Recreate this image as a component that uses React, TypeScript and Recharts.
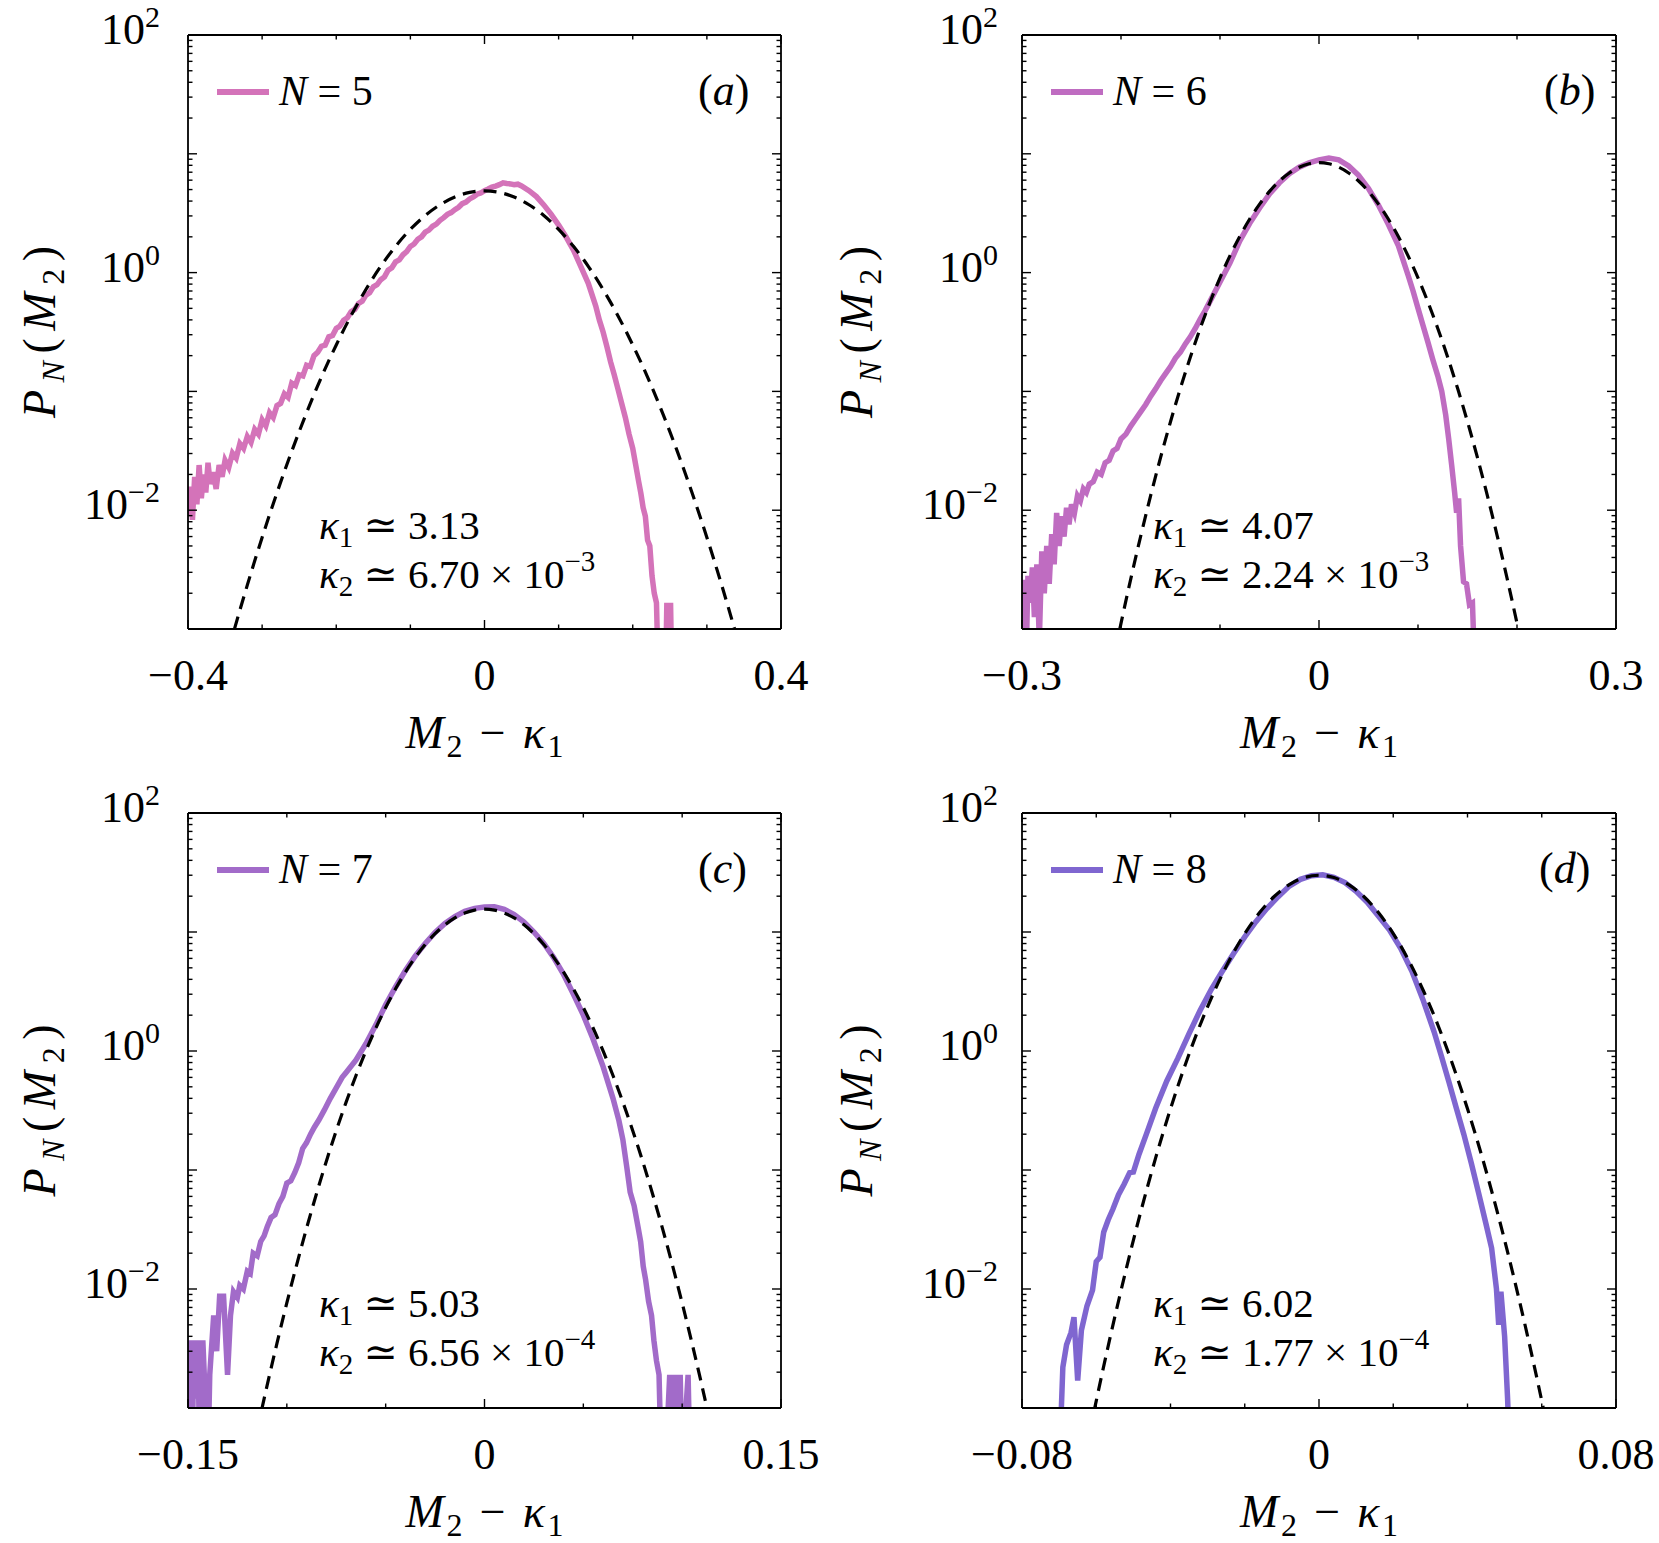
import React from "react";
import { LineChart, Line, XAxis, YAxis } from "recharts";

const FONT = "'Liberation Serif', 'DejaVu Serif', serif";

// ---------- labels / series info ----------
const panelTags = ["a", "b", "c", "d"];
const seriesN = ["5", "6", "7", "8"];
const seriesColors = ["#d473b9", "#bf6cc1", "#a26bc9", "#7f66d0"];
const kappa1 = ["3.13", "4.07", "5.03", "6.02"];
const kappa2Mantissa = ["6.70", "2.24", "6.56", "1.77"];
const kappa2Exponent = ["−3", "−3", "−4", "−4"];

// ---------- axes ----------
const yTicks = [
  0.001, 0.002, 0.003, 0.004, 0.005, 0.006, 0.007, 0.008, 0.009,
  0.01, 0.02, 0.03, 0.04, 0.05, 0.06, 0.07, 0.08, 0.09,
  0.1, 0.2, 0.3, 0.4, 0.5, 0.6, 0.7, 0.8, 0.9,
  1, 2, 3, 4, 5, 6, 7, 8, 9,
  10, 20, 30, 40, 50, 60, 70, 80, 90, 100,
];
const yLabelValues = [0.01, 1, 100];
const yLabelExponents = ["−2", "0", "2"];

const xTicksA = [-0.4, -0.3, -0.2, -0.1, 0, 0.1, 0.2, 0.3, 0.4];
const xTicksB = [-0.3, -0.2, -0.1, 0, 0.1, 0.2, 0.3];
const xTicksC = [-0.15, -0.1, -0.05, 0, 0.05, 0.1, 0.15];
const xTicksD = [-0.08, -0.06, -0.04, -0.02, 0, 0.02, 0.04, 0.06, 0.08];
const xLabelValuesA = [-0.4, 0, 0.4];
const xLabelValuesB = [-0.3, 0, 0.3];
const xLabelValuesC = [-0.15, 0, 0.15];
const xLabelValuesD = [-0.08, 0, 0.08];
const xLabelTextsA = ["−0.4", "0", "0.4"];
const xLabelTextsB = ["−0.3", "0", "0.3"];
const xLabelTextsC = ["−0.15", "0", "0.15"];
const xLabelTextsD = ["−0.08", "0", "0.08"];

// ---------- panel (a): N = 5 ----------
const xA = [-0.400,-0.397,-0.394,-0.391,-0.388,-0.385,-0.382,-0.379,-0.376,-0.373,-0.370,-0.366,-0.362,-0.358,-0.354,-0.350,-0.345,-0.340,-0.335,-0.330,-0.325,-0.320,-0.315,-0.310,-0.305,-0.300,-0.295,-0.290,-0.285,-0.280,-0.275,-0.270,-0.265,-0.260,-0.255,-0.250,-0.245,-0.240,-0.235,-0.230,-0.225,-0.220,-0.215,-0.210,-0.205,-0.200,-0.195,-0.190,-0.185,-0.180,-0.175,-0.170,-0.165,-0.160,-0.155,-0.150,-0.145,-0.140,-0.135,-0.130,-0.125,-0.120,-0.115,-0.110,-0.105,-0.100,-0.095,-0.090,-0.085,-0.080,-0.075,-0.070,-0.065,-0.060,-0.055,-0.050,-0.045,-0.040,-0.035,-0.030,-0.025,-0.020,-0.015,-0.010,-0.005,0.000,0.005,0.010,0.015,0.020,0.025,0.030,0.035,0.040,0.045,0.050,0.060,0.070,0.080,0.090,0.100,0.110,0.120,0.130,0.140,0.150,0.155,0.160,0.165,0.170,0.175,0.180,0.185,0.190,0.195,0.200,0.204,0.208,0.211,0.214,0.217,0.220,0.223,0.226,0.229,0.232,0.235,0.240,0.244,0.246,0.248,0.251,0.253];
const pA = [0.0089,0.0158,0.0083,0.0191,0.0112,0.0240,0.0126,0.0200,0.0141,0.0251,0.0166,0.0209,0.0151,0.0240,0.0191,0.0263,0.0229,0.0302,0.0275,0.0363,0.0331,0.0417,0.0372,0.0479,0.0437,0.0575,0.0513,0.0661,0.0603,0.0759,0.0794,0.0955,0.0891,0.1175,0.1122,0.138,0.135,0.166,0.162,0.200,0.214,0.240,0.245,0.288,0.295,0.339,0.355,0.398,0.417,0.468,0.490,0.550,0.575,0.646,0.676,0.759,0.79,0.871,0.92,1.047,1.10,1.230,1.28,1.413,1.50,1.660,1.74,1.905,2.00,2.188,2.28,2.455,2.56,2.754,2.90,3.090,3.20,3.388,3.55,3.802,3.92,4.169,4.33,4.571,4.68,4.898,5.05,5.248,5.35,5.495,5.70,5.623,5.58,5.495,5.55,5.370,4.898,4.365,3.715,3.090,2.512,1.995,1.549,1.122,0.813,0.525,0.398,0.316,0.240,0.178,0.138,0.105,0.0794,0.0603,0.0437,0.0331,0.0240,0.0174,0.0138,0.0105,0.0089,0.0056,0.0050,0.0028,0.0020,0.00166,0.0003,0.0003,0.0003,0.00166,0.0003,0.00166,0.0003];
const gxA = [-0.36,-0.34,-0.32,-0.30,-0.28,-0.26,-0.24,-0.22,-0.20,-0.18,-0.16,-0.14,-0.12,-0.10,-0.08,-0.06,-0.04,-0.02,0,0.02,0.04,0.06,0.08,0.10,0.12,0.14,0.16,0.18,0.20,0.22,0.24,0.26,0.28,0.30,0.32,0.34,0.36];
const gpA = [0.000307,0.000874,0.00234,0.00590,0.0140,0.0314,0.0662,0.132,0.246,0.434,0.721,1.129,1.664,2.311,3.023,3.726,4.326,4.731,4.874,4.731,4.326,3.726,3.023,2.311,1.664,1.129,0.721,0.434,0.246,0.132,0.0662,0.0314,0.0140,0.00590,0.00234,0.000874,0.000307];

// ---------- panel (b): N = 6 ----------
const xB = [-0.300,-0.2985,-0.2965,-0.294,-0.292,-0.2895,-0.2875,-0.285,-0.2825,-0.280,-0.2775,-0.275,-0.2725,-0.270,-0.2675,-0.265,-0.2625,-0.260,-0.2575,-0.255,-0.2525,-0.250,-0.247,-0.244,-0.241,-0.238,-0.235,-0.232,-0.228,-0.224,-0.220,-0.216,-0.212,-0.208,-0.204,-0.200,-0.195,-0.190,-0.185,-0.180,-0.175,-0.170,-0.165,-0.160,-0.155,-0.150,-0.145,-0.140,-0.135,-0.130,-0.125,-0.120,-0.115,-0.110,-0.100,-0.090,-0.080,-0.070,-0.060,-0.050,-0.040,-0.030,-0.020,-0.010,0.000,0.010,0.020,0.030,0.040,0.050,0.060,0.070,0.080,0.090,0.095,0.100,0.105,0.110,0.115,0.120,0.124,0.128,0.131,0.134,0.137,0.139,0.141,0.143,0.146,0.149,0.152,0.155,0.158];
const pB = [0.0003,0.0026,0.0003,0.0028,0.00166,0.0033,0.00126,0.0035,0.0008,0.0045,0.0020,0.0050,0.0024,0.0063,0.0035,0.0095,0.0050,0.0089,0.0060,0.0105,0.0076,0.0112,0.0095,0.0132,0.0120,0.0151,0.0141,0.0166,0.0174,0.0209,0.0200,0.0251,0.0263,0.0316,0.0331,0.0398,0.0437,0.0513,0.0589,0.0676,0.0776,0.0912,0.105,0.123,0.141,0.162,0.191,0.214,0.251,0.288,0.339,0.407,0.479,0.575,0.832,1.202,1.85,2.60,3.50,4.60,5.70,6.80,7.70,8.40,8.90,9.20,8.90,7.90,6.60,5.10,3.70,2.55,1.70,0.95,0.70,0.50,0.36,0.26,0.185,0.135,0.100,0.0631,0.0398,0.0240,0.0141,0.0095,0.0126,0.0050,0.0025,0.0024,0.0016,0.00166,0.0003];
const gxB = [-0.21,-0.20,-0.19,-0.18,-0.17,-0.16,-0.15,-0.14,-0.13,-0.12,-0.11,-0.10,-0.09,-0.08,-0.07,-0.06,-0.05,-0.04,-0.03,-0.02,-0.01,0,0.01,0.02,0.03,0.04,0.05,0.06,0.07,0.08,0.09,0.10,0.11,0.12,0.13,0.14,0.15,0.16,0.17,0.18,0.19,0.20,0.21];
const gpB = [0.000447,0.001117,0.002667,0.006094,0.01332,0.02780,0.05554,0.1061,0.1939,0.3387,0.5659,0.9045,1.383,2.021,2.824,3.774,4.825,5.899,6.896,7.710,8.244,8.43,8.244,7.710,6.896,5.899,4.825,3.774,2.824,2.021,1.383,0.9045,0.5659,0.3387,0.1939,0.1061,0.05554,0.02780,0.01332,0.006094,0.002667,0.001117,0.000447];

// ---------- panel (c): N = 7 ----------
const xC = [-0.1500,-0.1492,-0.1480,-0.1470,-0.1460,-0.1450,-0.1440,-0.1425,-0.1415,-0.1400,-0.1390,-0.1370,-0.1355,-0.1340,-0.1320,-0.1300,-0.1285,-0.1270,-0.1250,-0.1238,-0.1220,-0.1200,-0.1185,-0.1170,-0.1150,-0.1132,-0.1115,-0.1100,-0.1080,-0.1060,-0.1040,-0.1020,-0.1000,-0.0980,-0.0960,-0.0940,-0.0920,-0.0900,-0.0880,-0.0860,-0.0838,-0.0810,-0.0780,-0.0750,-0.0720,-0.0700,-0.0650,-0.0600,-0.0550,-0.0500,-0.0450,-0.0400,-0.0350,-0.0300,-0.0250,-0.0200,-0.0150,-0.0100,-0.0050,0.0000,0.0050,0.0100,0.0150,0.0200,0.0250,0.0300,0.0350,0.0400,0.0450,0.0500,0.0550,0.0600,0.0650,0.0680,0.0700,0.0720,0.0737,0.0757,0.0777,0.0790,0.0803,0.0815,0.0830,0.0845,0.0857,0.0870,0.0883,0.0895,0.0915,0.0937,0.0950,0.0965,0.0975,0.0990,0.1000,0.1030,0.1040];
const pC = [0.0003,0.0037,0.0003,0.0037,0.0012,0.0037,0.0003,0.0037,0.0015,0.0003,0.0019,0.0060,0.0030,0.0087,0.0087,0.0019,0.0060,0.0095,0.0085,0.0107,0.0100,0.0141,0.0135,0.0200,0.0190,0.0251,0.0280,0.0330,0.0398,0.0420,0.0520,0.0600,0.0776,0.0810,0.0950,0.1150,0.1514,0.170,0.200,0.230,0.263,0.320,0.400,0.490,0.600,0.660,0.840,1.15,1.65,2.45,3.45,4.75,6.30,8.00,9.90,11.8,13.5,14.9,15.8,16.2,16.3,15.5,14.0,12.1,10.0,8.00,6.10,4.40,3.00,2.00,1.25,0.74,0.40,0.26,0.18,0.105,0.065,0.050,0.033,0.025,0.0155,0.0120,0.0079,0.0060,0.0037,0.0025,0.0019,0.0003,0.0003,0.0019,0.0003,0.0019,0.0003,0.0019,0.0003,0.0019,0.0003];
const gxC = [-0.115,-0.11,-0.105,-0.10,-0.095,-0.09,-0.085,-0.08,-0.075,-0.07,-0.065,-0.06,-0.055,-0.05,-0.045,-0.04,-0.035,-0.03,-0.025,-0.02,-0.015,-0.01,-0.005,0,0.005,0.01,0.015,0.02,0.025,0.03,0.035,0.04,0.045,0.05,0.055,0.06,0.065,0.07,0.075,0.08,0.085,0.09,0.095,0.10,0.105,0.11,0.115];
const gpC = [0.000653,0.001539,0.003493,0.007631,0.01605,0.03246,0.06324,0.1186,0.2141,0.3720,0.6223,1.002,1.553,2.318,3.329,4.603,6.125,7.846,9.675,11.49,13.12,14.44,15.29,15.58,15.29,14.44,13.12,11.49,9.675,7.846,6.125,4.603,3.329,2.318,1.553,1.002,0.6223,0.3720,0.2141,0.1186,0.06324,0.03246,0.01605,0.007631,0.003493,0.001539,0.000653];

// ---------- panel (d): N = 8 ----------
const xD = [-0.0700,-0.0690,-0.0680,-0.0668,-0.0660,-0.0650,-0.0640,-0.0625,-0.0610,-0.0600,-0.0590,-0.0580,-0.0568,-0.0555,-0.0540,-0.0525,-0.0510,-0.0500,-0.0485,-0.0465,-0.0440,-0.0410,-0.0380,-0.0350,-0.0320,-0.0290,-0.0260,-0.0230,-0.0200,-0.0170,-0.0140,-0.0110,-0.0080,-0.0050,-0.0020,0.0010,0.0040,0.0070,0.0100,0.0130,0.0160,0.0190,0.0220,0.0250,0.0280,0.0310,0.0330,0.0350,0.0370,0.0390,0.0410,0.0430,0.0450,0.0465,0.0478,0.0484,0.0490,0.0500,0.0508,0.0515];
const pD = [0.0003,0.0022,0.0034,0.0043,0.0058,0.0017,0.0045,0.0072,0.0098,0.0170,0.0185,0.0300,0.0380,0.0470,0.0620,0.0760,0.0950,0.0960,0.135,0.200,0.330,0.560,0.870,1.40,2.20,3.30,4.70,6.60,9.10,12.2,15.8,19.8,24.3,27.7,29.7,30.2,28.8,26.0,22.0,17.8,13.6,10.4,7.30,4.70,2.70,1.45,0.90,0.55,0.33,0.20,0.115,0.064,0.035,0.022,0.0100,0.0050,0.0095,0.0040,0.0012,0.0003];
const gxD = [-0.064,-0.060,-0.056,-0.052,-0.048,-0.044,-0.040,-0.036,-0.032,-0.028,-0.024,-0.020,-0.016,-0.012,-0.008,-0.004,0,0.004,0.008,0.012,0.016,0.020,0.024,0.028,0.032,0.036,0.040,0.044,0.048,0.052,0.056,0.060,0.064];
const gpD = [0.000283,0.001149,0.004259,0.01443,0.04469,0.1264,0.3266,0.7710,1.662,3.274,5.894,9.690,14.55,19.97,25.03,28.66,29.99,28.66,25.03,19.97,14.55,9.690,5.894,3.274,1.662,0.7710,0.3266,0.1264,0.04469,0.01443,0.004259,0.001149,0.000283];

const zip = (xs: number[], ps: number[]) => xs.map((x, i) => ({ x, p: ps[i] }));

// ---------- layout (not data) ----------
type Layout = {
  left: number; top: number; w: number; h: number;
  m: { top: number; right: number; bottom: number; left: number };
  ylabX: number; yTickGap: number; tagDx: number;
};
const layouts: Layout[] = [
  { left: 0, top: 0, w: 830, h: 780, m: { top: 34, right: 48, bottom: 150, left: 187 }, ylabX: 55, yTickGap: 28, tagDx: 510 },
  { left: 830, top: 0, w: 829, h: 780, m: { top: 34, right: 42, bottom: 150, left: 191 }, ylabX: 42, yTickGap: 24, tagDx: 522 },
  { left: 0, top: 700, w: 830, h: 843, m: { top: 112, right: 48, bottom: 134, left: 187 }, ylabX: 55, yTickGap: 28, tagDx: 510 },
  { left: 830, top: 700, w: 829, h: 843, m: { top: 112, right: 42, bottom: 134, left: 191 }, ylabX: 42, yTickGap: 24, tagDx: 517 },
];

const panels = [
  { xs: xA, ps: pA, gx: gxA, gp: gpA, ticks: xTicksA, lv: xLabelValuesA, lt: xLabelTextsA },
  { xs: xB, ps: pB, gx: gxB, gp: gpB, ticks: xTicksB, lv: xLabelValuesB, lt: xLabelTextsB },
  { xs: xC, ps: pC, gx: gxC, gp: gpC, ticks: xTicksC, lv: xLabelValuesC, lt: xLabelTextsC },
  { xs: xD, ps: pD, gx: gxD, gp: gpD, ticks: xTicksD, lv: xLabelValuesD, lt: xLabelTextsD },
];

const TICK_FS = 44;

function YTick(props: any) {
  const { x, y, payload, side, gap } = props;
  const v = payload.value;
  const lg = Math.log10(v);
  const major = Math.abs(lg - Math.round(lg)) < 1e-6;
  const len = major ? 9 : 4.5;
  const dir = side === "left" ? 1 : -1;
  const li = yLabelValues.findIndex((t) => Math.abs(t - v) < v * 1e-6);
  return (
    <g>
      <line x1={x} y1={y} x2={x + dir * len} y2={y} stroke="#000" strokeWidth={1.4} />
      {side === "left" && li >= 0 && (
        <text x={x - gap} y={y + 9} textAnchor="end" fontFamily={FONT} fontSize={TICK_FS} fill="#000">
          10
          <tspan dy={-17} fontSize={30}>{yLabelExponents[li]}</tspan>
        </text>
      )}
    </g>
  );
}

function XTick(props: any) {
  const { x, y, payload, side, lv, lt } = props;
  const v = payload.value;
  const li = lv.findIndex((t: number) => Math.abs(t - v) < 1e-9);
  const len = li >= 0 ? 9 : 4.5;
  const dir = side === "bottom" ? -1 : 1;
  return (
    <g>
      <line x1={x} y1={y} x2={x} y2={y + dir * len} stroke="#000" strokeWidth={1.4} />
      {side === "bottom" && li >= 0 && (
        <text x={x} y={y + 61} textAnchor="middle" fontFamily={FONT} fontSize={TICK_FS} fill="#000">
          {lt[li]}
        </text>
      )}
    </g>
  );
}

function Panel({ idx }: { idx: number }) {
  const L = layouts[idx];
  const P = panels[idx];
  const pl = L.m.left + 1;
  const pt = L.m.top + 1;
  const pr = L.w - L.m.right - 1;
  const pb = L.h - L.m.bottom - 1;
  const cx = (pl + pr) / 2;
  const cy = (pt + pb) / 2;
  const color = seriesColors[idx];
  const data = zip(P.xs, P.ps);
  const gauss = zip(P.gx, P.gp);
  const dom = [P.ticks[0], P.ticks[P.ticks.length - 1]];
  const axisLine = { stroke: "#000", strokeWidth: 1.8 };
  return (
    <div style={{ position: "absolute", left: L.left, top: L.top, width: L.w, height: L.h }}>
      <LineChart width={L.w} height={L.h} margin={L.m}>
        <XAxis xAxisId="b" type="number" dataKey="x" domain={dom} ticks={P.ticks} interval={0}
          allowDataOverflow height={1} tickSize={0} tickMargin={0} tickLine={false} axisLine={axisLine}
          tick={(p: any) => <XTick {...p} side="bottom" lv={P.lv} lt={P.lt} />} />
        <XAxis xAxisId="t" orientation="top" type="number" dataKey="x" domain={dom} ticks={P.ticks} interval={0}
          allowDataOverflow height={1} tickSize={0} tickMargin={0} tickLine={false} axisLine={axisLine}
          tick={(p: any) => <XTick {...p} side="top" lv={P.lv} lt={P.lt} />} />
        <YAxis yAxisId="l" type="number" scale="log" domain={[0.001, 100]} ticks={yTicks} interval={0}
          allowDataOverflow width={1} tickSize={0} tickMargin={0} tickLine={false} axisLine={axisLine}
          tick={(p: any) => <YTick {...p} side="left" gap={L.yTickGap} />} />
        <YAxis yAxisId="r" orientation="right" type="number" scale="log" domain={[0.001, 100]} ticks={yTicks} interval={0}
          allowDataOverflow width={1} tickSize={0} tickMargin={0} tickLine={false} axisLine={axisLine}
          tick={(p: any) => <YTick {...p} side="right" gap={L.yTickGap} />} />
        <Line xAxisId="b" yAxisId="l" data={data} dataKey="p" type="linear" stroke={color} strokeWidth={5.5}
          dot={false} activeDot={false} isAnimationActive={false} />
        <Line xAxisId="b" yAxisId="l" data={gauss} dataKey="p" type="monotone" stroke="#000" strokeWidth={3.2}
          strokeDasharray="13 8" dot={false} activeDot={false} isAnimationActive={false} />

        {/* legend */}
        <line x1={pl + 29} y1={pt + 57} x2={pl + 81} y2={pt + 57} stroke={color} strokeWidth={6} />
        <text x={pl + 91} y={pt + 70} fontFamily={FONT} fontSize={42} fill="#000">
          <tspan fontStyle="italic">N</tspan> = {seriesN[idx]}
        </text>
        {/* panel tag */}
        <text x={pl + L.tagDx} y={pt + 70} fontFamily={FONT} fontSize={44} fill="#000">
          (<tspan fontStyle="italic">{panelTags[idx]}</tspan>)
        </text>
        {/* cumulants */}
        <text x={pl + 131} y={pt + 504} fontFamily={FONT} fontSize={41} fill="#000">
          <tspan fontStyle="italic">κ</tspan>
          <tspan dy={8} fontSize={29}>1</tspan>
          <tspan dy={-8}> ≃ {kappa1[idx]}</tspan>
        </text>
        <text x={pl + 131} y={pt + 553} fontFamily={FONT} fontSize={41} fill="#000">
          <tspan fontStyle="italic">κ</tspan>
          <tspan dy={8} fontSize={29}>2</tspan>
          <tspan dy={-8}> ≃ {kappa2Mantissa[idx]} × 10</tspan>
          <tspan dy={-17} fontSize={29}>{kappa2Exponent[idx]}</tspan>
        </text>
        {/* axis labels */}
        <text x={cx} y={pb + 119} textAnchor="middle" fontFamily={FONT} fontSize={46} fill="#000" textLength={158} lengthAdjust="spacing">
          <tspan fontStyle="italic">M</tspan>
          <tspan dy={9} fontSize={32}>2</tspan>
          <tspan dy={-9}> − </tspan>
          <tspan fontStyle="italic">κ</tspan>
          <tspan dy={9} fontSize={32}>1</tspan>
        </text>
        <text x={L.ylabX} y={cy} transform={`rotate(-90 ${L.ylabX} ${cy})`} textAnchor="middle" fontFamily={FONT}
          fontSize={46} fill="#000" textLength={172} lengthAdjust="spacing">
          <tspan fontStyle="italic">P</tspan>
          <tspan dy={9} fontSize={32} fontStyle="italic">N</tspan>
          <tspan dy={-9}>(</tspan>
          <tspan fontStyle="italic">M</tspan>
          <tspan dy={9} fontSize={32}>2</tspan>
          <tspan dy={-9}>)</tspan>
        </text>
      </LineChart>
    </div>
  );
}

export default function App() {
  return (
    <div style={{ position: "absolute", left: 0, top: 0, width: 1659, height: 1543, background: "#fff" }}>
      {[0, 1, 2, 3].map((i) => (
        <Panel key={i} idx={i} />
      ))}
    </div>
  );
}
